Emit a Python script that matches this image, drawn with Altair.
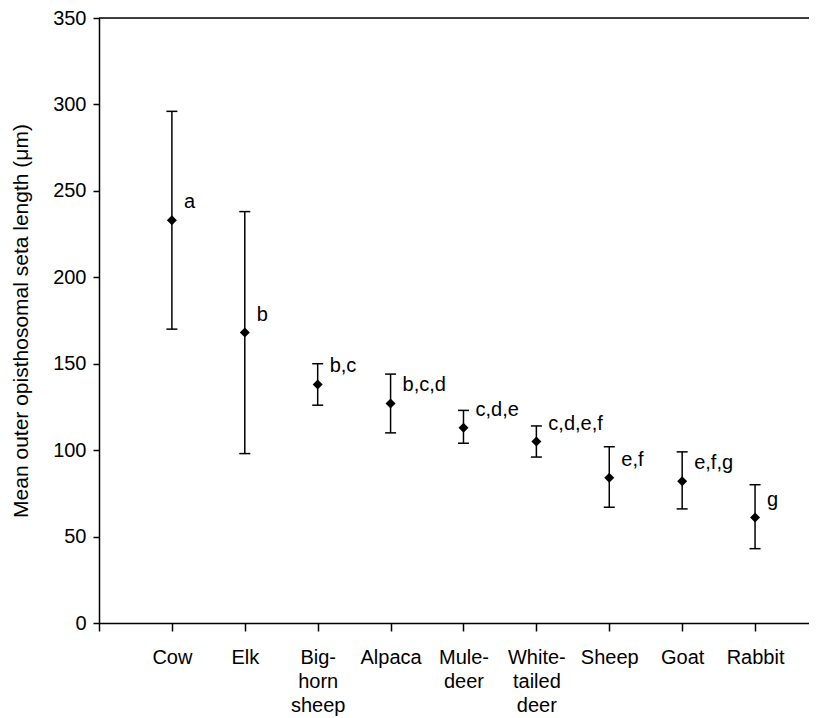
import altair as alt
import pandas as pd

# Categories (multi-line tick labels) in display order
categories = ["Cow", "Elk", "Big-horn sheep", "Alpaca", "Mule-deer",
              "White-tailed deer", "Sheep", "Goat", "Rabbit"]
label_lines = [["Cow"], ["Elk"], ["Big-", "horn", "sheep"], ["Alpaca"],
               ["Mule-", "deer"], ["White-", "tailed", "deer"], ["Sheep"],
               ["Goat"], ["Rabbit"]]
means = [233, 168, 138, 127, 113, 105, 84, 82, 61]
upper = [296, 238, 150, 144, 123, 114, 102, 99, 80]
lower = [170, 98, 126, 110, 104, 96, 67, 66, 43]
letters = ["a", "b", "b,c", "b,c,d", "c,d,e", "c,d,e,f", "e,f", "e,f,g", "g"]
y_ticks = [0, 50, 100, 150, 200, 250, 300, 350]

df = pd.DataFrame({
    "pos": list(range(1, len(categories) + 1)),
    "species": categories,
    "mean": means,
    "upper": upper,
    "lower": lower,
    "letter": letters,
})

FONT = "Liberation Sans"

# label expression: index 0 is the empty slot at the axis origin
arr = "[['']," + ",".join("[" + ",".join("'" + s + "'" for s in lines) + "]"
                          for lines in label_lines) + "]"
label_expr = arr + "[datum.value]"

xscale = alt.Scale(domain=[0, 9.74], nice=False, zero=False)
yscale = alt.Scale(domain=[0, 350], nice=False)

x_enc = alt.X("pos:Q", scale=xscale, title=None,
              axis=alt.Axis(values=list(range(0, 10)), labelExpr=label_expr,
                            grid=False, tickSize=8, tickWidth=1.5,
                            domainWidth=1.5, domainColor="black",
                            tickColor="black", labelColor="black",
                            labelFont=FONT, labelFontSize=20,
                            labelLineHeight=24, labelPadding=16,
                            labelBaseline="top", labelAlign="center",
                            labelFlush=False, labelOverlap=False))
y_axis = alt.Axis(values=y_ticks, grid=False, tickSize=6, tickWidth=1.5,
                  domainWidth=1.5, domainColor="black", tickColor="black",
                  labelColor="black", labelFont=FONT, labelFontSize=20,
                  labelPadding=7, titleFont=FONT, titleFontSize=21,
                  titleFontWeight="normal", titleColor="black",
                  titlePadding=21)

base = alt.Chart(df)

bars = base.mark_rule(color="black", strokeWidth=1.5).encode(
    x=x_enc,
    y=alt.Y("lower:Q", scale=yscale,
            title="Mean outer opisthosomal seta length (μm)", axis=y_axis),
    y2="upper:Q",
)
cap_hi = base.mark_tick(orient="horizontal", color="black", size=11,
                        thickness=1.5, opacity=1).encode(
    x="pos:Q", y="upper:Q")
cap_lo = base.mark_tick(orient="horizontal", color="black", size=11,
                        thickness=1.5, opacity=1).encode(
    x="pos:Q", y="lower:Q")
points = base.mark_point(shape="diamond", filled=True, size=100,
                         color="black", opacity=1).encode(
    x="pos:Q", y="mean:Q")
texts = base.mark_text(align="left", baseline="middle", dx=12, dy=-18,
                       font=FONT, fontSize=20, color="black").encode(
    x="pos:Q", y="mean:Q", text="letter:N")

top_border = alt.Chart(pd.DataFrame({"v": [350]})).mark_rule(
    color="black", strokeWidth=1.5).encode(y=alt.Y("v:Q"))

chart = alt.layer(bars, cap_hi, cap_lo, points, texts, top_border).properties(
    width=710, height=605,
    autosize=alt.AutoSizeParams(type="none"),
    padding={"left": 91, "top": 10, "right": 0, "bottom": 100},
).configure_view(stroke=None).configure(background="white")

chart.save("out.html", embed_options={"renderer": "svg", "actions": False})
